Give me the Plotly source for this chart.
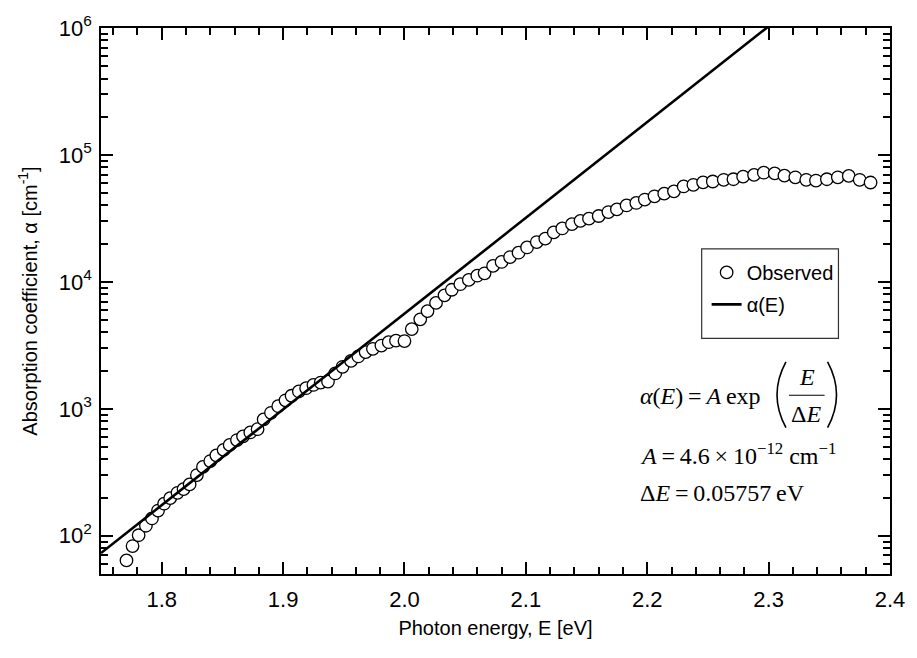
import plotly.graph_objects as go

# ---------------- data ----------------
energy_eV = [
    1.771, 1.776, 1.781, 1.787, 1.792, 1.797, 1.802, 1.807, 1.813, 1.818,
    1.823, 1.829, 1.834, 1.840, 1.845, 1.851, 1.856, 1.862, 1.867, 1.873,
    1.879, 1.884, 1.890, 1.896, 1.902, 1.907, 1.913, 1.919, 1.925, 1.931,
    1.937, 1.943, 1.949, 1.956, 1.962, 1.968, 1.974, 1.981, 1.987, 1.993,
    2.000, 2.006, 2.013, 2.019, 2.026, 2.033, 2.039, 2.046, 2.053, 2.060,
    2.066, 2.073, 2.080, 2.087, 2.094, 2.101, 2.109, 2.116, 2.123, 2.130,
    2.138, 2.145, 2.152, 2.160, 2.168, 2.175, 2.183, 2.191, 2.198, 2.206,
    2.214, 2.222, 2.230, 2.238, 2.246, 2.254, 2.263, 2.271, 2.279, 2.288,
    2.296, 2.305, 2.313, 2.322, 2.331, 2.339, 2.348, 2.357, 2.366, 2.375,
    2.384,
]
alpha_observed = [
    64, 83, 101, 120, 137, 158, 179, 198, 218, 233,
    254, 301, 349, 388, 430, 475, 520, 568, 607, 652,
    691, 826, 931, 1049, 1168, 1268, 1371, 1455, 1542, 1611,
    1640, 1901, 2143, 2386, 2588, 2800, 2971, 3150, 3350, 3444,
    3420, 4246, 5070, 5888, 6834, 7833, 8670, 9595, 10370, 11190,
    11680, 13370, 14360, 15700, 16980, 18670, 20600, 21930, 24550, 26360,
    28510, 30260, 31500, 33040, 35480, 37260, 40010, 41890, 44540, 47210,
    49580, 51660, 56490, 58210, 60840, 61780, 63680, 64380, 67470, 69660,
    72490, 71610, 68710, 66690, 63680, 62830, 64380, 66690, 68390, 63680,
    60650,
]
# straight fitted line (on log scale) read at its two ends
fit_energy = [1.75, 2.30]
fit_alpha = [73.1, 1.031e6]

x_tick_values = [1.8, 1.9, 2.0, 2.1, 2.2, 2.3, 2.4]
x_tick_labels = ["1.8", "1.9", "2.0", "2.1", "2.2", "2.3", "2.4"]
y_tick_values = [1e2, 1e3, 1e4, 1e5, 1e6]
y_tick_labels = ["10<sup>2</sup>", "10<sup>3</sup>", "10<sup>4</sup>",
                 "10<sup>5</sup>", "10<sup>6</sup>"]

# ---------------- figure ----------------
SANS = "Liberation Sans, Arial, sans-serif"
SERIF = "Liberation Serif, Times New Roman, serif"
FS = 20

fig = go.Figure()
fig.add_trace(go.Scatter(
    x=energy_eV, y=alpha_observed, mode="markers", name="Observed",
    marker=dict(symbol="circle", size=12.5, color="white",
                line=dict(color="black", width=1.3)),
    legendgroup="a",
))
fig.add_trace(go.Scatter(
    x=fit_energy, y=fit_alpha, mode="lines", name="α(E)",
    line=dict(color="black", width=2.6),
    legendgroup="b",
))

axis_common = dict(
    showline=True, linecolor="black", linewidth=1.5, mirror="allticks",
    ticks="inside", ticklen=12, tickwidth=1.5, tickcolor="black",
    showgrid=False, zeroline=False,
    tickfont=dict(family=SANS, size=22, color="black"),
)

fig.update_xaxes(
    range=[1.75, 2.4], tickmode="array", tickvals=x_tick_values,
    ticktext=x_tick_labels, ticklabelstandoff=5,
    minor=dict(dtick=0.02, tick0=0, ticks="inside", ticklen=7,
               tickwidth=1.5, tickcolor="black", showgrid=False),
    title=dict(text="Photon energy, E [eV]",
               font=dict(family=SANS, size=FS, color="black"), standoff=10),
    **axis_common,
)
fig.update_yaxes(
    type="log", range=[1.699, 6.0], tickmode="array", tickvals=y_tick_values,
    ticktext=y_tick_labels, ticklabelstandoff=3,
    minor=dict(dtick="D1", ticks="inside", ticklen=7, tickwidth=1.5,
               tickcolor="black", showgrid=False),
    title=dict(text="Absorption coefficient, α [cm<sup>-1</sup>]",
               font=dict(family=SANS, size=FS, color="black"), standoff=16),
    **axis_common,
)

def px_x(px):
    return (px - 101) / 796.0

def px_y(py):
    return (574 - py) / 556.0

eq_font = dict(family=SERIF, size=24, color="black")
annotations = [
    dict(text="<i>α</i>(<i>E</i>)\u2009=\u2009<i>A</i>\u2009exp", x=px_x(643),
         y=px_y(393), xanchor="left", yanchor="middle", font=eq_font),
    dict(text="<i>E</i>", x=px_x(813), y=px_y(373), xanchor="center",
         yanchor="middle", font=eq_font),
    dict(text="Δ<i>E</i>", x=px_x(812), y=px_y(411), xanchor="center",
         yanchor="middle", font=eq_font),
    dict(text="<i>A</i>\u2009=\u20094.6\u2009×\u200910<sup>−12</sup> cm<sup>−1</sup>",
         x=px_x(643), y=px_y(452), xanchor="left", yanchor="middle",
         font=eq_font),
    dict(text="Δ<i>E</i>\u2009=\u20090.05757\u2009eV", x=px_x(643),
         y=px_y(492), xanchor="left", yanchor="middle", font=eq_font),
]
for a in annotations:
    a.update(xref="paper", yref="paper", showarrow=False)

def paren_path(x_end, x_bulge, y_top, y_bot):
    ym = (y_top + y_bot) / 2.0
    return "M {:.4f},{:.4f} Q {:.4f},{:.4f} {:.4f},{:.4f}".format(
        px_x(x_end), px_y(y_top), px_x(x_bulge), px_y(ym),
        px_x(x_end), px_y(y_bot))

shapes = [
    # fraction bar
    dict(type="line", xref="paper", yref="paper",
         x0=px_x(795), x1=px_x(831), y0=px_y(392), y1=px_y(392),
         line=dict(color="black", width=1.2)),
    # big parentheses
    dict(type="path", xref="paper", yref="paper",
         path=paren_path(792, 774, 358, 425),
         line=dict(color="black", width=1.6)),
    dict(type="path", xref="paper", yref="paper",
         path=paren_path(834, 852, 358, 425),
         line=dict(color="black", width=1.6)),
    # legend frame
    dict(type="rect", xref="paper", yref="paper",
         x0=px_x(707), x1=px_x(845), y0=px_y(243), y1=px_y(334),
         line=dict(color="#333333", width=1.2), fillcolor="white",
         layer="below"),
]

fig.update_layout(
    width=917, height=658,
    margin=dict(l=101, r=20, t=18, b=84),
    paper_bgcolor="white", plot_bgcolor="white",
    showlegend=True,
    legend=dict(x=px_x(712), y=px_y(247), xanchor="left", yanchor="top",
                bgcolor="rgba(255,255,255,0)", borderwidth=0,
                font=dict(family=SANS, size=FS, color="black"),
                traceorder="grouped", tracegroupgap=3,
                itemwidth=30),
    annotations=annotations,
    shapes=shapes,
)

fig.write_html("out.html")
